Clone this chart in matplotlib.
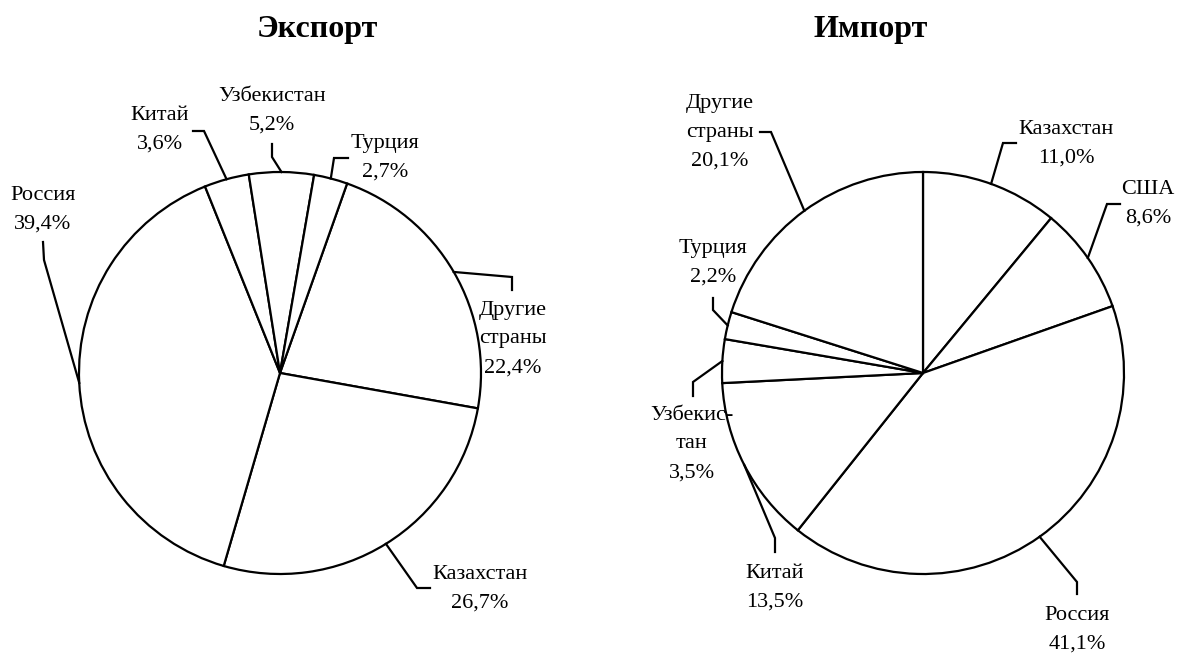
import numpy as np
import matplotlib.pyplot as plt

plt.rcParams['font.family'] = ['Liberation Serif', 'DejaVu Serif']

# data (shares, %)
exp_labels = ['Другие\nстраны', 'Казахстан', 'Россия', 'Китай', 'Узбекистан', 'Турция']
exp_values = [22.4, 26.7, 39.4, 3.6, 5.2, 2.7]

imp_labels = ['Казахстан', 'США', 'Россия', 'Китай', 'Узбекис-\nтан', 'Турция', 'Другие\nстраны']
imp_values = [11.0, 8.6, 41.1, 13.5, 3.5, 2.2, 20.1]

# layout in pixels (y counted from the top)
W, H = 1186, 655
R = 201
exp_center = (280, 373)
imp_center = (923, 373)

exp_text = [(513, 339), (480, 589), (43, 210), (160, 130), (272, 111), (385, 158)]
exp_lead = [((512, 277), (512, 290)), ((417, 588), (430, 588)), ((44, 260), (43, 242)),
            ((204, 131), (193, 131)), ((272, 157), (272, 144)), ((334, 158), (348, 158))]

imp_text = [(1066, 144), (1148, 204), (1077, 630), (775, 588), (692, 444), (713, 263), (720, 132)]
imp_lead = [((1003, 143), (1016, 143)), ((1107, 204), (1120, 204)), ((1077, 582), (1077, 594)),
            ((775, 538), (775, 552)), ((693, 382), (693, 396)), ((713, 310), (713, 298)),
            ((771, 132), (760, 132))]

fig = plt.figure(figsize=(W / 100, H / 100), dpi=100)
ax = fig.add_axes([0, 0, 1, 1])


def draw_pie(values, labels, center, start, text_pos, leads):
    cx, cy = center[0], H - center[1]
    wedges, _ = ax.pie(values, center=(cx, cy), radius=R, startangle=start,
                       counterclock=False,
                       wedgeprops=dict(facecolor='white', edgecolor='black', linewidth=1.6))
    for w, lab, v, tp, (b, e) in zip(wedges, labels, values, text_pos, leads):
        mid = np.deg2rad((w.theta1 + w.theta2) / 2)
        x0 = cx + R * np.cos(mid)
        y0 = cy + R * np.sin(mid)
        ax.plot([x0, b[0], e[0]], [y0, H - b[1], H - e[1]], color='black', lw=1.6,
                solid_joinstyle='miter')
        txt = lab + '\n' + ('%.1f%%' % v).replace('.', ',')
        ax.text(tp[0], H - tp[1], txt, ha='center', va='center', fontsize=16,
                linespacing=1.7, color='black')


draw_pie(exp_values, exp_labels, exp_center, 70.5, exp_text, exp_lead)
draw_pie(imp_values, imp_labels, imp_center, 90, imp_text, imp_lead)

ax.text(317, H - 29, 'Экспорт', fontsize=23, fontweight='bold', ha='center', va='center')
ax.text(871, H - 29, 'Импорт', fontsize=23, fontweight='bold', ha='center', va='center')

ax.set_xlim(0, W)
ax.set_ylim(0, H)
ax.set_aspect('equal')
ax.axis('off')

fig.savefig('out.png', dpi=100, facecolor='white')
